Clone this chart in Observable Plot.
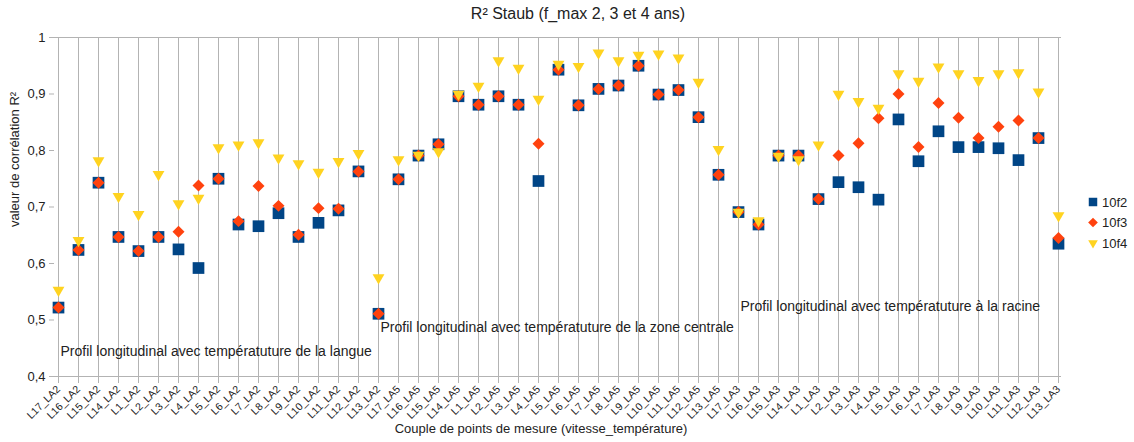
<!DOCTYPE html>
<html><head><meta charset="utf-8">
<script src="https://cdn.jsdelivr.net/npm/d3@7"></script>
<script src="https://cdn.jsdelivr.net/npm/@observablehq/plot@0.6"></script>
<style>
body{margin:0;background:#fff;font-family:"Liberation Sans",Arial,sans-serif;}
#wrap{position:relative;width:1134px;height:442px;overflow:hidden;}
#title{height:28px;line-height:28px;font-size:16px;text-align:center;padding-left:22px;box-sizing:border-box;width:1134px;color:#222;}
#legend{position:absolute;left:1085px;top:190px;}
</style></head><body>
<div id="wrap"><div id="title">R² Staub (f_max 2, 3 et 4 ans)</div><div id="chart"></div><svg id="legend" width="49" height="64"></svg></div>
<script>
const categories = [
  "L17_LA2","L16_LA2","L15_LA2","L14_LA2","L1_LA2","L2_LA2","L3_LA2","L4_LA2","L5_LA2","L6_LA2","L7_LA2","L8_LA2","L9_LA2","L10_LA2","L11_LA2","L12_LA2","L13_LA2",
  "L17_LA5","L16_LA5","L15_LA5","L14_LA5","L1_LA5","L2_LA5","L3_LA5","L4_LA5","L5_LA5","L6_LA5","L7_LA5","L8_LA5","L9_LA5","L10_LA5","L11_LA5","L12_LA5","L13_LA5",
  "L17_LA3","L16_LA3","L15_LA3","L14_LA3","L1_LA3","L2_LA3","L3_LA3","L4_LA3","L5_LA3","L6_LA3","L7_LA3","L8_LA3","L9_LA3","L10_LA3","L11_LA3","L12_LA3","L13_LA3"
];
const f2 = [0.522,0.624,0.743,0.647,0.622,0.647,0.625,0.592,0.750,0.669,0.666,0.689,0.647,0.672,0.694,0.763,0.511,
  0.749,0.791,0.811,0.896,0.881,0.896,0.881,0.746,0.943,0.880,0.909,0.915,0.950,0.899,0.907,0.859,0.757,
  0.691,0.669,0.791,0.791,0.714,0.744,0.735,0.713,0.855,0.781,0.834,0.806,0.806,0.804,0.783,0.822,0.635];
const f3 = [0.522,0.624,0.743,0.647,0.622,0.647,0.656,0.738,0.750,0.675,0.737,0.702,0.651,0.698,0.697,0.763,0.511,
  0.749,0.791,0.811,0.896,0.881,0.896,0.881,0.812,0.943,0.880,0.909,0.915,0.950,0.899,0.907,0.859,0.757,
  0.691,0.669,0.791,0.791,0.714,0.791,0.813,0.857,0.900,0.806,0.884,0.858,0.822,0.842,0.853,0.822,0.645];
const f4 = [0.550,0.638,0.779,0.716,0.684,0.755,0.703,0.713,0.802,0.807,0.811,0.784,0.774,0.759,0.778,0.792,0.572,
  0.781,0.789,0.795,0.897,0.911,0.956,0.943,0.888,0.950,0.946,0.970,0.956,0.966,0.968,0.961,0.918,0.799,
  0.688,0.673,0.787,0.781,0.807,0.897,0.884,0.872,0.933,0.920,0.945,0.933,0.921,0.933,0.935,0.901,0.682];
const seriesNames = ["10f2","10f3","10f4"];
const yTicks = [0.4,0.5,0.6,0.7,0.8,0.9,1];
const annotText = [
  "Profil longitudinal avec températuture de la langue",
  "Profil longitudinal avec températuture de la zone centrale",
  "Profil longitudinal avec températuture à la racine"
];
const annotX = ["L17_LA2","L13_LA2","L17_LA3"];
const annotY = [0.444,0.487,0.524];

const colors = ["#004586","#ff420e","#ffd320"];
const idx = d3.range(categories.length);
const ann = d3.range(annotText.length);
const fmt = d => d === 1 ? "1" : d.toFixed(1).replace(".", ",");
const FONT = "'Liberation Sans', Arial, sans-serif";

const chart = Plot.plot({
  width: 1134, height: 414,
  marginTop: 9, marginBottom: 66, marginLeft: 54, marginRight: 73,
  style: {fontFamily: FONT, color: "#222", background: "#fff"},
  x: {type: "point", domain: categories, padding: 0},
  y: {domain: [0.4, 1]},
  marks: [
    Plot.gridX({stroke: "#b3b3b3", strokeOpacity: 1, strokeWidth: 1}),
    Plot.ruleY([0.4, 1], {stroke: "#b3b3b3"}),
    Plot.axisY(yTicks, {tickSize: 5, tickPadding: 4, tickFormat: fmt, label: null, fontSize: 13, stroke: "#b3b3b3", fill: "#222"}),
    Plot.axisX({tickRotate: -45, tickSize: 7, tickPadding: 4, label: null, fontSize: 10.5, stroke: "#b3b3b3", fill: "#222"}),
    Plot.text(["valeur de corrélation R²"], {frameAnchor: "left", rotate: -90, dx: -40, dy: 20, fontSize: 13, fill: "#222"}),
    Plot.text(["Couple de points de mesure (vitesse_température)"], {frameAnchor: "bottom", dx: -17, dy: 56, fontSize: 13, fill: "#222"}),
    Plot.text(ann, {x: i => annotX[i], y: i => annotY[i], text: i => annotText[i], textAnchor: "start", dx: 2, fontSize: 14, fill: "#222"}),
    Plot.dot(idx, {x: i => categories[i], y: i => f2[i], symbol: "square", r: 6.6, fill: colors[0]}),
    Plot.dot(idx, {x: i => categories[i], y: i => f3[i], symbol: "diamond2", r: 5.4, fill: colors[1]}),
    Plot.dot(idx, {x: i => categories[i], y: i => f4[i], symbol: "triangle", rotate: 180, r: 4.4, dy: -1.6, fill: colors[2]})
  ]
});
document.getElementById("chart").appendChild(chart);

// legend
const leg = d3.select("#legend");
const syms = [d3.symbolSquare, d3.symbolDiamond2, d3.symbolTriangle];
const sizes = [72, 60, 40];
seriesNames.forEach((name, k) => {
  const cy = 12 + k * 20.5;
  leg.append("path")
    .attr("d", d3.symbol(syms[k], sizes[k])())
    .attr("transform", `translate(8,${cy})` + (k === 2 ? " rotate(180)" : ""))
    .attr("fill", colors[k]);
  leg.append("text").attr("x", 17).attr("y", cy).attr("dy", "0.35em")
    .attr("font-family", FONT).attr("font-size", 13).attr("fill", "#222").text(name);
});
</script>
</body></html>
